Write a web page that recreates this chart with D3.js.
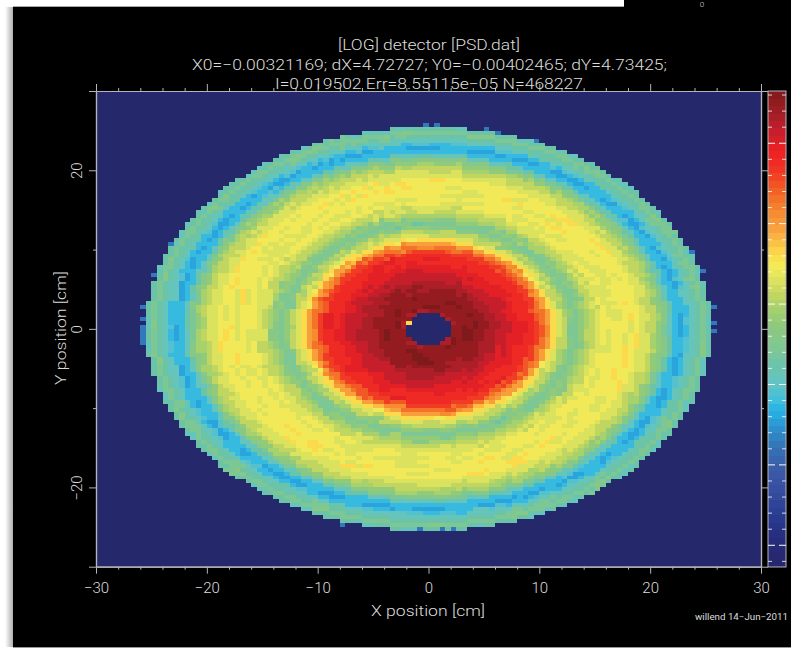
<!DOCTYPE html>
<html>
<head>
<meta charset="utf-8">
<script src="https://cdn.jsdelivr.net/npm/d3@7"></script>
<style>
  body { margin: 0; background: #fff; }
  text { font-family: Roboto, "Liberation Sans", sans-serif; font-weight: 300; fill: #dcdcdc; }
</style>
</head>
<body>
<div id="parentDiv"></div>
<script>
const titleLines = [
  "[LOG] detector [PSD.dat]",
  "X0=\u22120.00321169; dX=4.72727; Y0=\u22120.00402465; dY=4.73425;",
  "I=0.019502 Err=8.55115e\u221205 N=468227"
];
const xLabel = "X position [cm]";
const yLabel = "Y position [cm]";
const stamp = "willend 14\u2212Jun\u22122011";

const xMajor = [-30, -20, -10, 0, 10, 20, 30];
const xMinor = [-28, -26, -24, -22, -18, -16, -14, -12, -8, -6, -4, -2, 2, 4, 6, 8, 12, 14, 16, 18, 22, 24, 26, 28];
const yMajor = [-20, 0, 20];
const yMinor = [-30, -10, 10, 30];

// detector readings: each string is a radial run, one character per 0.5 cm ring,
// read off the picture. spaces are only for counting
const levelChars = "0123456789abcdefghijklmnopqrstuvwxyz";
const radialRuns = [
  "0000yyzyyy xxwwvvuuut rpnlkighjk lmlmmlmmll kjhfcbcefg f0",
  "0000xyyzyy yxxwwvvuut rqnlkhgijk llmmlmmmll kihecccefg e0",
  "0000yzyyyy xxwwwvuvut spnkkigijk lmlmmmlmlk kjgecbdefh f0",
  "0000xyyyzy xxwwvvvuus rpmljhgijl lmmlmmnmll kihfcbcefg g0",
  "0000yyyzyy yxwwvvuuut qpnlkigghk kllmmlmmlk jihedccefg f0",
  "0000xzyyyy xxwwwvuvut rpnkjhgijk lmllmmmnll kjhfcccefg e0",
  "0000yyzyyx yxxwvvvuus rpmlkhghjk kmmlmmlmll kjgecbdegg f0",
  "0000xyyyyy xxwvwvuuut rqnljigijk lmmlmnmmlk kihfcbcefg f0",
  "0000yyyzyy xwwwwvvuut spnlkhfhjk lllmmmmlll kjheccefgg e0",
  "0000xyzyyx yxwwwvvuut rpnkighjkl lmlmmlmnll jihfcbdefh f0",
  "0000yzyyyy xxxwvvuuus rpnlkhgijk lmmlmmmmlk kjgecccefg f0",
  "0000xyyzyy xxwwvvuvut qonljigijl lmmmllmmll kihecbdefg f0",
  "0000yyyyzy yxxwwvvuut rpnlkigghk lmlmmmnmlk kjhfcbcfgg e0",
  "0000xyzyyy xxwvvvuuvt spmkkhgijk kllmmmmmll kihecceefg f0",
  "0000yyyzyy xxwwvvuuus rpnljighjk lmlmlnmmlk jjgecbdefh f0",
  "0000xzyyyx yxwwwvuuut rqnlkhghjk lmmmlmlmll kihfcccefg e0",
  "0000yyzyyy xxwwvvvuut rpnkkigijk kllmmnmmll kjhecbcefg f0",
  "0000xyyyzy yxxwwvuvut sonljhgijk lmlmmlmnlk jigecbdefg f0",
  "0000yyyzyy xxxwvvuuus rpmlkigghk lmmlmmmmll kihfcbcegg f0",
  "0000xzyyyy xxwwwvvuut rpnljighjk kllmnmlmll jjgeccdefg e0",
  "0000yyzyyy yxwwvvuuvt qpnkkhgijk lmlmmmmnlk kihecbcefh f0",
  "0000xyyyyx yxxwvvvuus rpnljighjk kllmlmmmll kjhfcbcefg f0",
  "0000yzyyyy xxwwwvuuut rqmlkhgijl lmmmlmmmlk kigeccdefg f0",
  "0000xyyzyy xxxwvvuuut spnljigijk lmlmmmnmll kjhecbcefg e0"
];
// the single orange bin on the rim of the hole and the sparse blue bins on the outer edge
const hotCells = [{x: -2, y: 0.5, level: "n"}];
const edgeX = [-26, -26, -26, -26, -26, -26, -26, 25.5, 25.5, 25.5, 0.5, -0.5, 5, 6, 9.5, 24.5, 23.5, -1, 1, 2, -8, -25, -23.5];
const edgeY = [2.5, 1, -0.5, -1, -1.5, -2, 0, 2.5, 0.5, -0.5, 25.5, 25.5, 25, 24.5, 23.5, 7, 9.5, -25.5, -25.5, -25.5, -25, 6.5, 10.5];

// colour bar read from bottom to top, position 0..1
const barStops = [0, 0.03, 0.07, 0.105, 0.14, 0.176, 0.21, 0.246, 0.281, 0.309, 0.33, 0.351, 0.386, 0.428, 0.456, 0.512, 0.54, 0.575, 0.603, 0.634, 0.659, 0.68, 0.708, 0.744, 0.771, 0.806, 0.841, 0.876, 0.897, 0.925, 0.953, 1];
const barColors = ["#26286c", "#272870", "#272f80", "#293a90", "#31479b", "#3953a4", "#3a5ca8", "#3670b4", "#2e8ac7", "#2b9fd8", "#27b3e6", "#40bfdc", "#62c4c4", "#6cc4a8", "#7dc795", "#8fc97a", "#a5d06e", "#c3d75e", "#dde35e", "#f5ea55", "#fcd94a", "#fbc346", "#f9a33e", "#f68b30", "#f37329", "#f15225", "#ef3024", "#ee2024", "#d51f27", "#be1e2d", "#a21e25", "#7f1a1c"];
const barDomain = [-0.27, 5.65];
const barMajor = [0, 1, 2, 3, 4, 5];
const barMinor = [-0.2, 0.2, 0.4, 0.6, 0.8, 1.2, 1.4, 1.6, 1.8, 2.2, 2.4, 2.6, 2.8, 3.2, 3.4, 3.6, 3.8, 4.2, 4.4, 4.6, 4.8, 5.2, 5.4, 5.6];

const width = 791;
const height = 648;
const axisColor = "#b4b4bc";
const binSize = 0.5;

const svg = d3.select("#parentDiv").append("svg")
  .attr("width", width)
  .attr("height", height)
  .style("display", "block");

const defs = svg.append("defs");
const edge = defs.append("linearGradient").attr("id", "edge");
edge.append("stop").attr("offset", 0).attr("stop-color", "#ffffff");
edge.append("stop").attr("offset", 1).attr("stop-color", "#b0b0b0");

// SHEET BEHIND THE PLOT
svg.append("rect").attr("x", 5).attr("y", 7).attr("width", 8).attr("height", 640).attr("fill", "url(#edge)");
svg.append("rect").attr("x", 13).attr("y", 6).attr("width", 611).attr("height", 1).attr("fill", "#a8a8a8");
svg.append("rect").attr("x", 13).attr("y", 7).attr("width", 778).attr("height", 640).attr("fill", "#000");
svg.append("rect").attr("x", 624).attr("y", 0).attr("width", 167).attr("height", 7).attr("fill", "#000");
svg.append("rect").attr("x", 13).attr("y", 647).attr("width", 778).attr("height", 1).attr("fill", "#999");
svg.append("text").attr("x", 702).attr("y", 7).attr("text-anchor", "middle").attr("font-size", 8).text("0");

// SCALES
const x = d3.scaleLinear().domain([-30, 30]).range([96, 761]);
const y = d3.scaleLinear().domain([-30, 30]).range([566.7, 91]);
const color = d3.scaleLinear().domain(barStops).range(barColors);
const levelScale = d3.scaleLinear().domain([0, levelChars.length - 1]).range([0, 1]);

const runs = radialRuns.map(s => s.replace(/ /g, ""));
const levelOf = c => levelChars.indexOf(c);

// HEATMAP
svg.append("rect")
  .attr("x", x(-30)).attr("y", y(30))
  .attr("width", x(30) - x(-30)).attr("height", y(-30) - y(30))
  .attr("fill", color(0));

// each ring steps through the runs along its arc, about 1.5 cm per reading
const cells = [];
d3.range(-30, 30, binSize).forEach(bx => {
  d3.range(-30, 30, binSize).forEach(by => {
    const cx = bx + binSize / 2;
    const cy = by + binSize / 2;
    const r = Math.hypot(cx, cy);
    const ring = Math.floor(r / binSize);
    if (ring >= runs[0].length) return;
    const arc = (Math.atan2(cy, cx) + Math.PI) * r;
    const run = (Math.floor(arc / 1.5) + ring * 7) % runs.length;
    const level = levelOf(runs[run][ring]);
    if (level > 0) cells.push({x: bx, y: by, level: level});
  });
});
hotCells.forEach(d => cells.push({x: d.x, y: d.y, level: levelOf(d.level)}));
edgeX.forEach((v, i) => cells.push({x: v, y: edgeY[i], level: levelOf("9")}));

svg.append("g")
  .attr("shape-rendering", "crispEdges")
  .selectAll("rect")
  .data(cells)
  .join("rect")
  .attr("x", d => x(d.x))
  .attr("y", d => y(d.y + binSize))
  .attr("width", x(binSize) - x(0))
  .attr("height", y(0) - y(binSize))
  .attr("fill", d => color(levelScale(d.level)));

// AXES
function styleAxis(g) {
  g.select(".domain").attr("stroke", axisColor).attr("stroke-width", 1.2);
  g.selectAll(".tick line").attr("stroke", axisColor);
  g.selectAll(".tick text").attr("fill", "#dcdcdc").attr("font-size", 15).attr("font-family", null);
}
const noLabel = () => "";

function drawAxis(maker, scale, major, minor, translate, labelled) {
  const minorAxis = maker(scale).tickValues(minor).tickSize(3).tickFormat(noLabel).tickSizeOuter(0);
  const majorAxis = maker(scale).tickValues(major).tickSize(7).tickSizeOuter(0);
  if (!labelled) majorAxis.tickFormat(noLabel);
  svg.append("g").attr("transform", translate).call(minorAxis).call(styleAxis);
  return svg.append("g").attr("transform", translate).call(majorAxis).call(styleAxis);
}

const bottomAxis = drawAxis(d3.axisBottom, x, xMajor, xMinor, `translate(0,${y(-30)})`, true);
bottomAxis.selectAll(".tick text").attr("dy", "1.1em");
drawAxis(d3.axisTop, x, xMajor, xMinor, `translate(0,${y(30)})`, false);
const leftAxis = drawAxis(d3.axisLeft, y, yMajor.concat([-30, 30]), yMinor.filter(v => Math.abs(v) < 30), `translate(${x(-30)},0)`, true);
leftAxis.selectAll(".tick")
  .filter(d => Math.abs(d) === 30)
  .select("text").remove();
leftAxis.selectAll(".tick text")
  .attr("text-anchor", "middle")
  .attr("x", 0).attr("dy", 0)
  .attr("transform", "translate(-14,0) rotate(-90)");
drawAxis(d3.axisRight, y, yMajor.concat([-30, 30]), yMinor.filter(v => Math.abs(v) < 30), `translate(${x(30)},0)`, false);

// TITLES
const titleSpans = [[338, 520], [192, 667], [275, 583]];
titleLines.forEach((line, i) => {
  svg.append("text")
    .attr("x", (titleSpans[i][0] + titleSpans[i][1]) / 2)
    .attr("y", 50 + i * 19.5)
    .attr("text-anchor", "middle")
    .attr("font-size", 15)
    .attr("textLength", titleSpans[i][1] - titleSpans[i][0])
    .attr("lengthAdjust", "spacingAndGlyphs")
    .text(line);
});

svg.append("text")
  .attr("x", 428).attr("y", 616)
  .attr("text-anchor", "middle")
  .attr("font-size", 15)
  .attr("textLength", 114)
  .attr("lengthAdjust", "spacingAndGlyphs")
  .text(xLabel);

svg.append("text")
  .attr("transform", "translate(66,328) rotate(-90)")
  .attr("text-anchor", "middle")
  .attr("font-size", 15)
  .attr("textLength", 114)
  .attr("lengthAdjust", "spacingAndGlyphs")
  .text(yLabel);

svg.append("text")
  .attr("x", 695).attr("y", 620)
  .attr("font-size", 8.5)
  .attr("textLength", 93)
  .attr("lengthAdjust", "spacingAndGlyphs")
  .style("font-weight", 400)
  .text(stamp);

// COLOUR BAR
const barX = [768, 786];
const barY = d3.scaleLinear().domain(barDomain).range([567, 91]);
const barSteps = 64;
const barValue = d3.scaleLinear().domain([0, barSteps]).range(barDomain);

svg.append("g")
  .attr("shape-rendering", "crispEdges")
  .selectAll("rect")
  .data(d3.range(barSteps))
  .join("rect")
  .attr("x", barX[0])
  .attr("y", d => barY(barValue(d + 1)))
  .attr("width", barX[1] - barX[0])
  .attr("height", d => barY(barValue(d)) - barY(barValue(d + 1)) + 0.3)
  .attr("fill", d => color((d + 0.5) / barSteps));

svg.append("rect")
  .attr("x", barX[0]).attr("y", 91)
  .attr("width", barX[1] - barX[0]).attr("height", 476)
  .attr("fill", "none")
  .attr("stroke", axisColor);

function barTicks(values, len, w) {
  [[barX[0], len], [barX[1], -len]].forEach(side => {
    svg.append("g").selectAll("line")
      .data(values)
      .join("line")
      .attr("x1", side[0]).attr("x2", side[0] + side[1])
      .attr("y1", d => barY(d)).attr("y2", d => barY(d))
      .attr("stroke", "#fff")
      .attr("stroke-width", w);
  });
}
barTicks(barMinor, 4, 0.8);
barTicks(barMajor, 7, 1);
</script>
</body>
</html>
